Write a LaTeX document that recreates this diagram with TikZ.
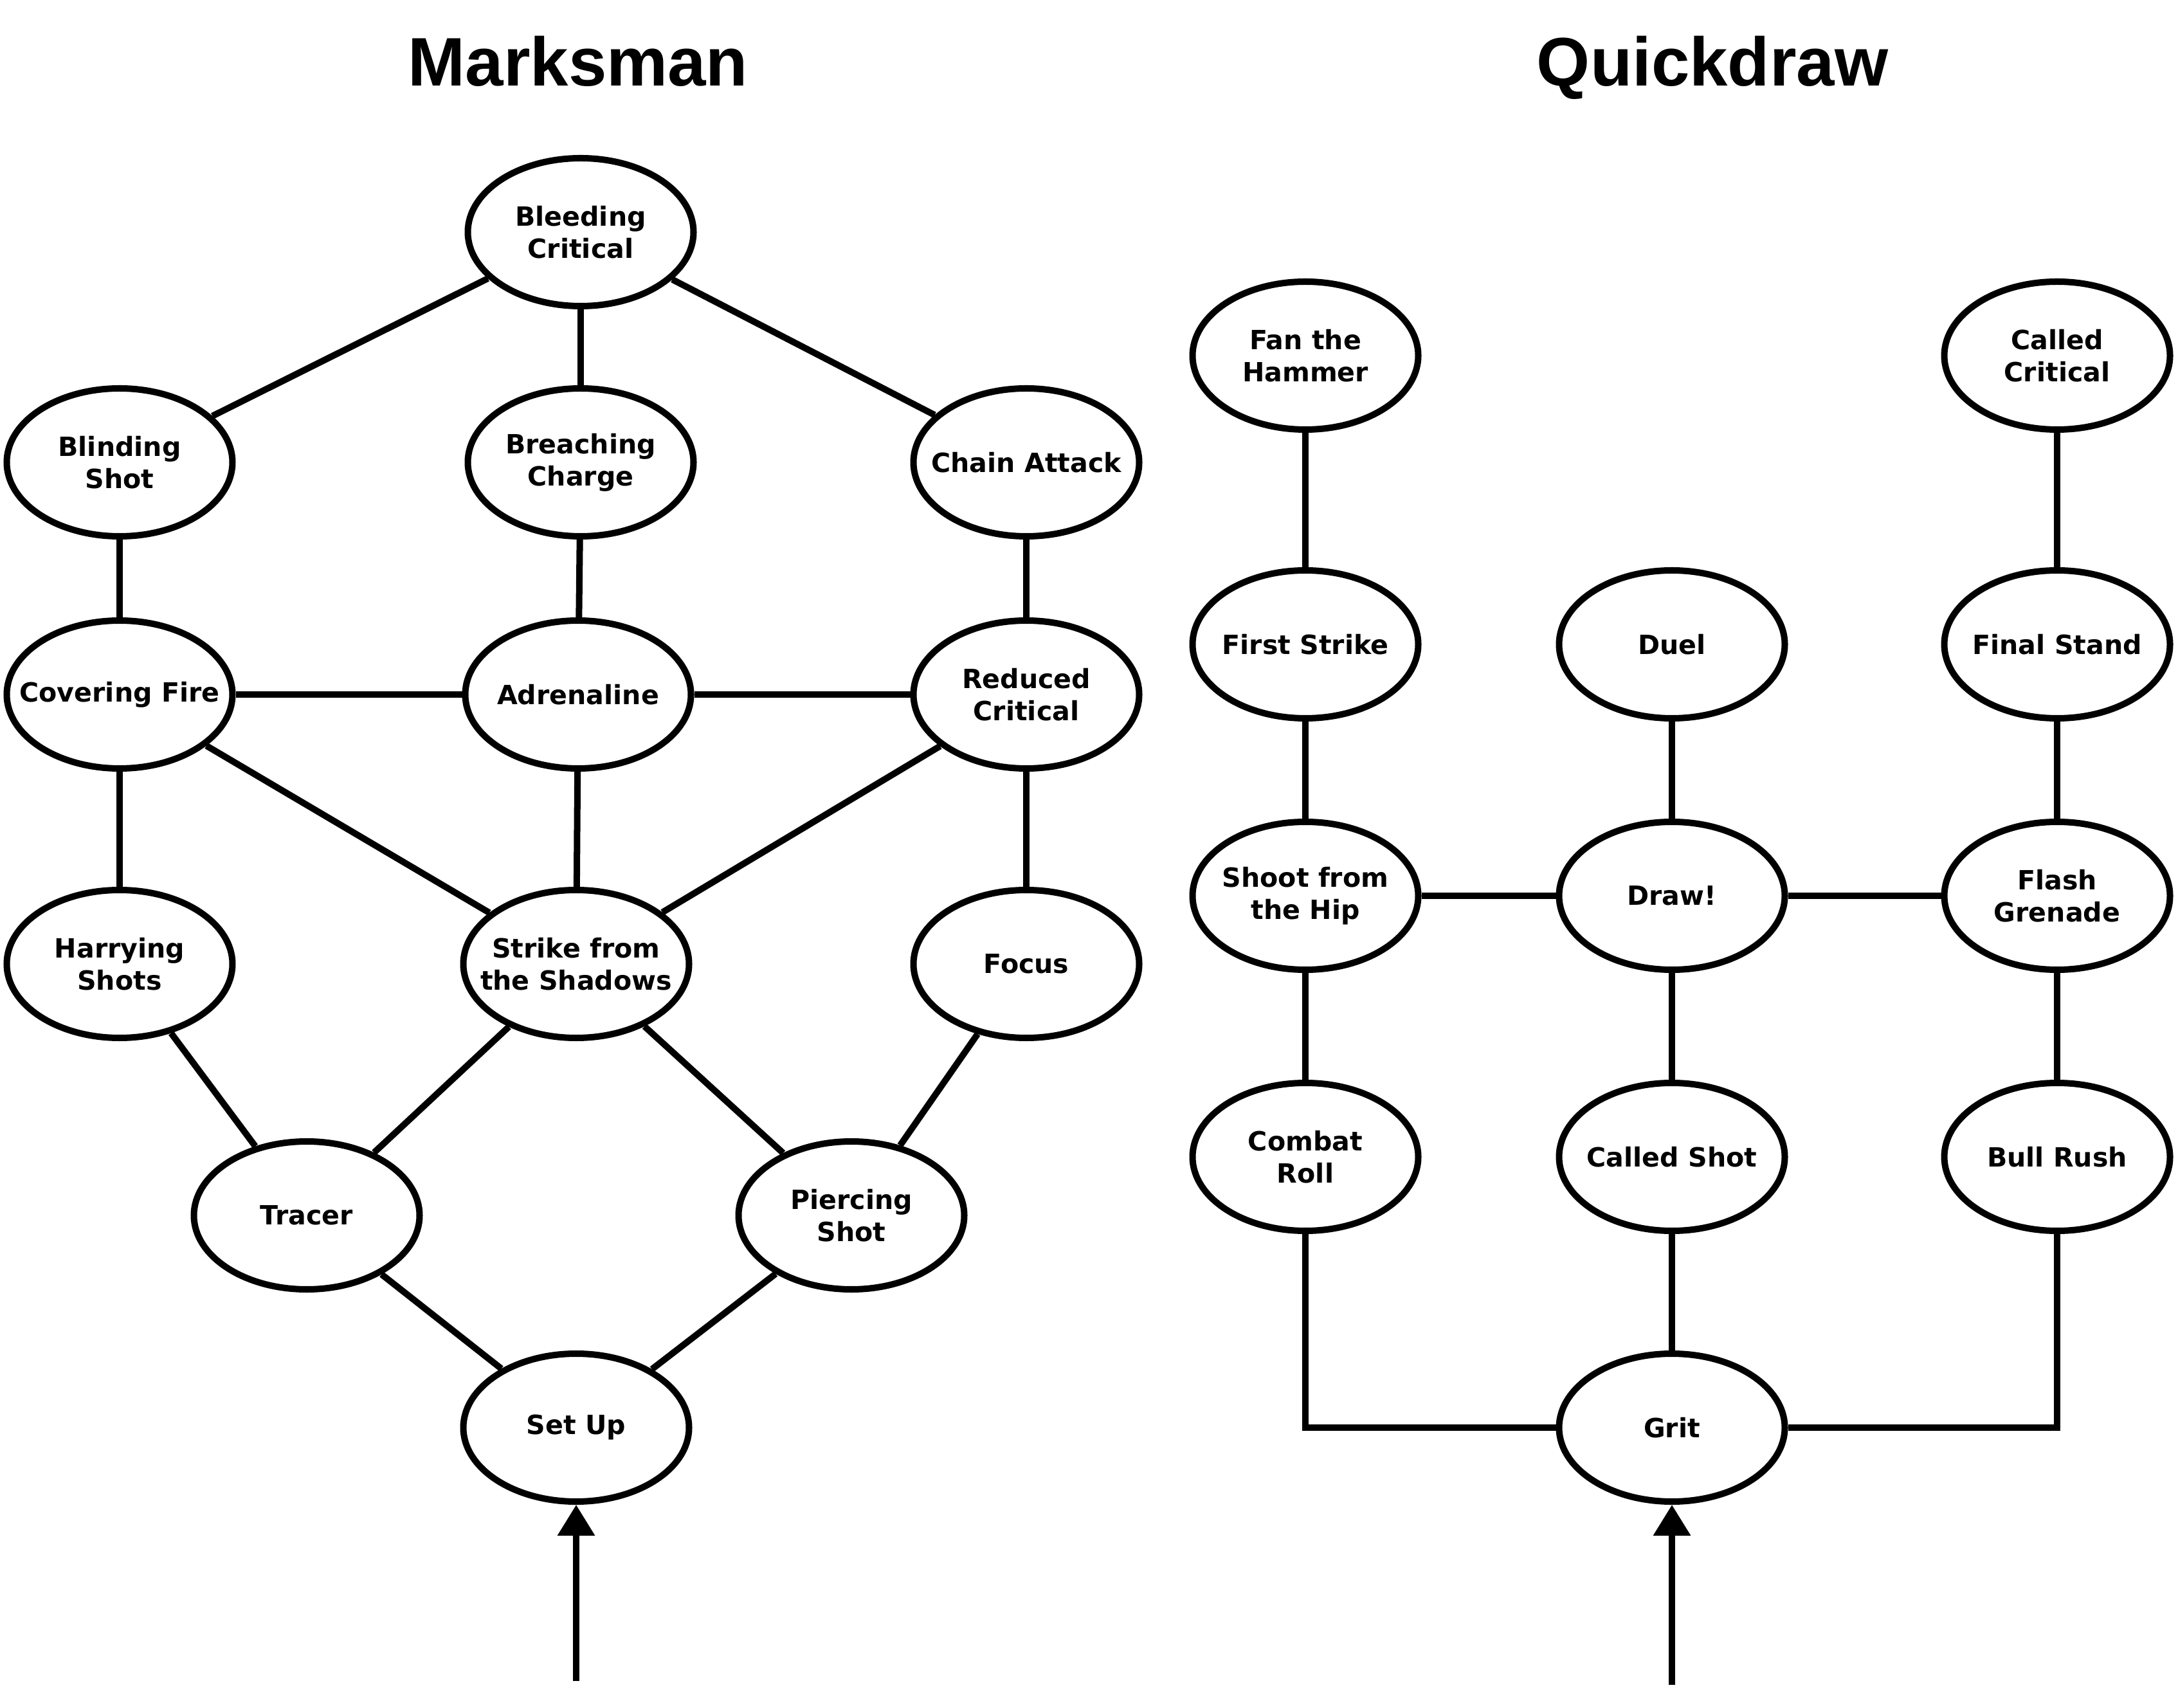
\documentclass[tikz,border=0pt]{standalone}
\usepackage{fontspec}
\setmainfont{DejaVu Sans}
\newfontfamily\titlefont{Liberation Sans}
\usetikzlibrary{shapes.geometric, arrows.meta}
\tikzset{
    skill/.style={ellipse, draw=black, line width=2.85pt, fill=white,
                  minimum width=3.51cm, minimum height=2.30cm, inner xsep=-0.6cm, inner ysep=0pt,
                  align=center, font=\bfseries\fontsize{11.7}{14.2}\selectfont},
    treetitle/.style={anchor=base, font=\titlefont\bfseries\fontsize{30.4}{36}\selectfont},
    link/.style={line width=2.85pt, black},
    entry/.style={-{Triangle[length=0.48cm, width=0.56cm]}, line width=2.85pt, black},
}
\begin{document}
\begin{tikzpicture}
    \useasboundingbox (0,0) rectangle (33.87,26.55);

    % Titles
    \node[treetitle] (tmarks) at (8.99, 25.21) {Marksman};
    \node[treetitle] (tquick) at (26.63, 25.21) {Quickdraw};

    % Marksman tree
    \node[skill] (bleed)   at (9.03, 22.94) {Bleeding\\Critical};
    \node[skill] (blind)   at (1.86, 19.36) {Blinding\\Shot};
    \node[skill] (breach)  at (9.03, 19.36) {Breaching\\Charge};
    \node[skill] (chain)   at (15.96, 19.36) {Chain Attack};
    \node[skill] (cover)   at (1.86, 15.75) {Covering Fire};
    \node[skill] (adren)   at (8.99, 15.75) {Adrenaline};
    \node[skill] (reduced) at (15.96, 15.75) {Reduced\\Critical};
    \node[skill] (harry)   at (1.86, 11.56) {Harrying\\Shots};
    \node[skill] (strike)  at (8.96, 11.56) {Strike from\\the Shadows};
    \node[skill] (focus)   at (15.96, 11.56) {Focus};
    \node[skill] (tracer)  at (4.77, 7.65) {Tracer};
    \node[skill] (pierce)  at (13.24, 7.65) {Piercing\\Shot};
    \node[skill] (setup)   at (8.96, 4.35) {Set Up};
    \coordinate (setupin) at (8.96, 0.41);

    \draw[link] (bleed) -- (blind);
    \draw[link] (bleed) -- (breach);
    \draw[link] (bleed) -- (chain);
    \draw[link] (blind) -- (cover);
    \draw[link] (breach) -- (adren);
    \draw[link] (chain) -- (reduced);
    \draw[link] (cover) -- (adren);
    \draw[link] (adren) -- (reduced);
    \draw[link] (cover) -- (harry);
    \draw[link] (cover) -- (strike);
    \draw[link] (adren) -- (strike);
    \draw[link] (reduced) -- (strike);
    \draw[link] (reduced) -- (focus);
    \draw[link] (harry) -- (tracer);
    \draw[link] (strike) -- (tracer);
    \draw[link] (strike) -- (pierce);
    \draw[link] (focus) -- (pierce);
    \draw[link] (tracer) -- (setup);
    \draw[link] (pierce) -- (setup);
    \draw[entry] (setupin) -- (setup.south);

    % Quickdraw tree
    \node[skill] (fan)     at (20.30, 21.02) {Fan the\\Hammer};
    \node[skill] (callcrit) at (31.99, 21.02) {Called\\Critical};
    \node[skill] (first)   at (20.30, 16.53) {First Strike};
    \node[skill] (duel)    at (26.00, 16.53) {Duel};
    \node[skill] (final)   at (31.99, 16.53) {Final Stand};
    \node[skill] (hip)     at (20.30, 12.62) {Shoot from\\the Hip};
    \node[skill] (draw)    at (26.00, 12.62) {Draw!};
    \node[skill] (flash)   at (31.99, 12.62) {Flash\\Grenade};
    \node[skill] (roll)    at (20.30, 8.56) {Combat\\Roll};
    \node[skill] (callshot) at (26.00, 8.56) {Called Shot};
    \node[skill] (bull)    at (31.99, 8.56) {Bull Rush};
    \node[skill] (grit)    at (26.00, 4.35) {Grit};
    \coordinate (gritin) at (26.00, 0.35);

    \draw[link] (fan) -- (first);
    \draw[link] (first) -- (hip);
    \draw[link] (callcrit) -- (final);
    \draw[link] (final) -- (flash);
    \draw[link] (duel) -- (draw);
    \draw[link] (hip) -- (draw);
    \draw[link] (draw) -- (flash);
    \draw[link] (hip) -- (roll);
    \draw[link] (draw) -- (callshot);
    \draw[link] (flash) -- (bull);
    \draw[link] (callshot) -- (grit);
    \draw[link] (roll.south) |- (grit.west);
    \draw[link] (bull.south) |- (grit.east);
    \draw[entry] (gritin) -- (grit.south);
\end{tikzpicture}
\end{document}
